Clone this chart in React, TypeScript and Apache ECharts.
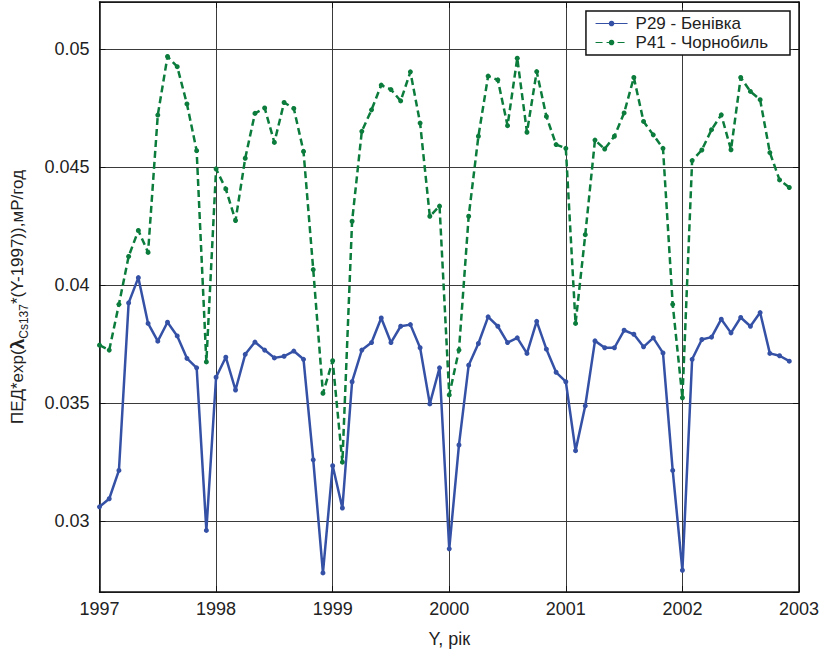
import React, { useEffect, useRef } from "react";
import * as echarts from "echarts";

const startYear = 1997;
const xTickLabels = ["1997", "1998", "1999", "2000", "2001", "2002", "2003"];
const yTickLabels = ["0.03", "0.035", "0.04", "0.045", "0.05"];

const seriesNames = ["P29 - Бенівка", "P41 - Чорнобиль"];

// Monthly values, Jan 1997 .. Dec 2002
const benivka = [
  0.03061, 0.03095, 0.03215, 0.03925, 0.04032, 0.03838, 0.03763, 0.03843, 0.03785, 0.0369, 0.0365, 0.02961,
  0.0361, 0.03695, 0.03556, 0.03707, 0.03759, 0.03725, 0.03692, 0.03699, 0.03721, 0.03686, 0.0326, 0.02781,
  0.03235, 0.03056, 0.03591, 0.03725, 0.03757, 0.03861, 0.03757, 0.03826, 0.03833, 0.03735, 0.03497, 0.0365,
  0.02883, 0.03323, 0.03661, 0.03753, 0.03866, 0.03826, 0.03757, 0.03777, 0.03711, 0.03847, 0.03729, 0.03631,
  0.03591, 0.03299, 0.03489, 0.03764, 0.03735, 0.03735, 0.03809, 0.03792, 0.03739, 0.03777, 0.03713, 0.03215,
  0.02792, 0.03686, 0.0377, 0.0378, 0.03856, 0.03798, 0.03863, 0.03826, 0.03884, 0.03711, 0.03701, 0.03678,
];

const chornobyl = [
  0.03746, 0.03725, 0.03919, 0.04122, 0.04232, 0.04139, 0.04721, 0.04969, 0.04926, 0.04768, 0.0457, 0.03675,
  0.04493, 0.04408, 0.04274, 0.04538, 0.04728, 0.04751, 0.04605, 0.04774, 0.04749, 0.04567, 0.04066, 0.03542,
  0.0368, 0.0325, 0.04271, 0.04652, 0.04743, 0.04848, 0.04829, 0.04781, 0.04904, 0.04687, 0.04292, 0.04335,
  0.03535, 0.03725, 0.04292, 0.04631, 0.04886, 0.0487, 0.04676, 0.04962, 0.04648, 0.04905, 0.04715, 0.04596,
  0.0458, 0.03838, 0.04214, 0.04615, 0.04577, 0.04631, 0.0473, 0.0488, 0.04694, 0.04637, 0.0458, 0.03919,
  0.03523, 0.04528, 0.04573, 0.04659, 0.04722, 0.04574, 0.0488, 0.04821, 0.04786, 0.04562, 0.04446, 0.04414,
];

const FONT = "'Liberation Sans', Arial, Helvetica, sans-serif";
const BLUE = "#3451a6";
const GREEN = "#0b7c3c";

export default function App() {
  const ref = useRef<HTMLDivElement>(null);

  useEffect(() => {
    if (!ref.current) return;
    const chart = echarts.init(ref.current, null, { renderer: "svg" });

    const toPairs = (arr: number[]) => arr.map((v, k) => [startYear + k / 12, v]);
    const isTick = (v: number) => Math.abs(v / 0.005 - Math.round(v / 0.005)) < 1e-6;
    const yLabel = (v: number) => {
      if (!isTick(v)) return "";
      const s = parseFloat(v.toFixed(3)).toString();
      return yTickLabels.includes(s) ? s : "";
    };
    const xLabel = (v: number) => {
      const s = String(Math.round(v));
      return xTickLabels.includes(s) ? s : "";
    };

    const axisLineStyle = { color: "#111", width: 1.5 };
    const gridLine = { show: true, lineStyle: { color: "#3a3a3a", width: 1 } };

    chart.setOption({
      animation: false,
      backgroundColor: "#fff",
      grid: { left: 96, right: 27, top: 2, bottom: 62, containLabel: false },
      legend: {
        data: seriesNames,
        orient: "vertical",
        right: 36,
        top: 11,
        padding: [4, 22, 4, 9],
        itemGap: 2,
        itemWidth: 32,
        itemHeight: 7,
        backgroundColor: "#fff",
        borderColor: "#111",
        borderWidth: 1.5,
        borderRadius: 0,
        lineStyle: { width: 1.2 },
        textStyle: { fontFamily: FONT, fontSize: 17, color: "#222", padding: [0, 0, 0, 3] },
      },
      xAxis: [
        {
          type: "value",
          min: 1997,
          max: 2003,
          interval: 1,
          name: "Y, рік",
          nameLocation: "middle",
          nameGap: 38,
          nameTextStyle: { fontFamily: FONT, fontSize: 18, color: "#222" },
          axisLine: { show: true, lineStyle: axisLineStyle },
          axisTick: { show: true, inside: true, length: 6, lineStyle: { color: "#111" } },
          axisLabel: { fontFamily: FONT, fontSize: 18, color: "#222", margin: 8, formatter: xLabel },
          splitLine: gridLine,
        },
        {
          type: "value",
          position: "top",
          min: 1997,
          max: 2003,
          interval: 1,
          axisLine: { show: true, lineStyle: axisLineStyle },
          axisTick: { show: true, inside: true, length: 6, lineStyle: { color: "#111" } },
          axisLabel: { show: false },
          splitLine: { show: false },
        },
      ],
      yAxis: [
        {
          type: "value",
          min: 0.027,
          max: 0.052,
          splitNumber: 5,
          name: "{a|ПЕД*exp(}{b|λ}{s|Cs137}{a|*(Y-1997)),мР/год}",
          nameLocation: "middle",
          nameGap: 70,
          nameTextStyle: {
            fontFamily: FONT,
            fontSize: 17,
            color: "#222",
            rich: {
              a: { fontFamily: FONT, fontSize: 17, color: "#222", lineHeight: 24, verticalAlign: "middle" },
              b: { fontFamily: FONT, fontSize: 19, fontWeight: "bold", color: "#222", lineHeight: 24, verticalAlign: "middle" },
              s: { fontFamily: FONT, fontSize: 12, color: "#222", lineHeight: 24, verticalAlign: "bottom" },
            },
          },
          axisLine: { show: true, lineStyle: axisLineStyle },
          axisTick: { show: true, inside: true, length: 6, lineStyle: { color: "#111" } },
          axisLabel: { fontFamily: FONT, fontSize: 18, color: "#222", margin: 10, formatter: yLabel },
          splitLine: gridLine,
        },
        {
          type: "value",
          position: "right",
          min: 0.027,
          max: 0.052,
          splitNumber: 5,
          axisLine: { show: true, lineStyle: axisLineStyle },
          axisTick: { show: true, inside: true, length: 6, lineStyle: { color: "#111" } },
          axisLabel: { show: false },
          splitLine: { show: false },
        },
      ],
      series: [
        {
          name: seriesNames[0],
          type: "line",
          data: toPairs(benivka),
          symbol: "circle",
          symbolSize: 5,
          showAllSymbol: true,
          itemStyle: { color: BLUE },
          lineStyle: { color: BLUE, width: 2.5 },
          z: 3,
        },
        {
          name: seriesNames[1],
          type: "line",
          data: toPairs(chornobyl),
          symbol: "circle",
          symbolSize: 5,
          showAllSymbol: true,
          itemStyle: { color: GREEN },
          lineStyle: { color: GREEN, width: 2.5, type: [7, 4] },
          z: 2,
        },
      ],
    });

    return () => chart.dispose();
  }, []);

  return (
    <div
      ref={ref}
      style={{ position: "fixed", left: 0, top: 0, width: 826, height: 654, background: "#fff" }}
    />
  );
}
